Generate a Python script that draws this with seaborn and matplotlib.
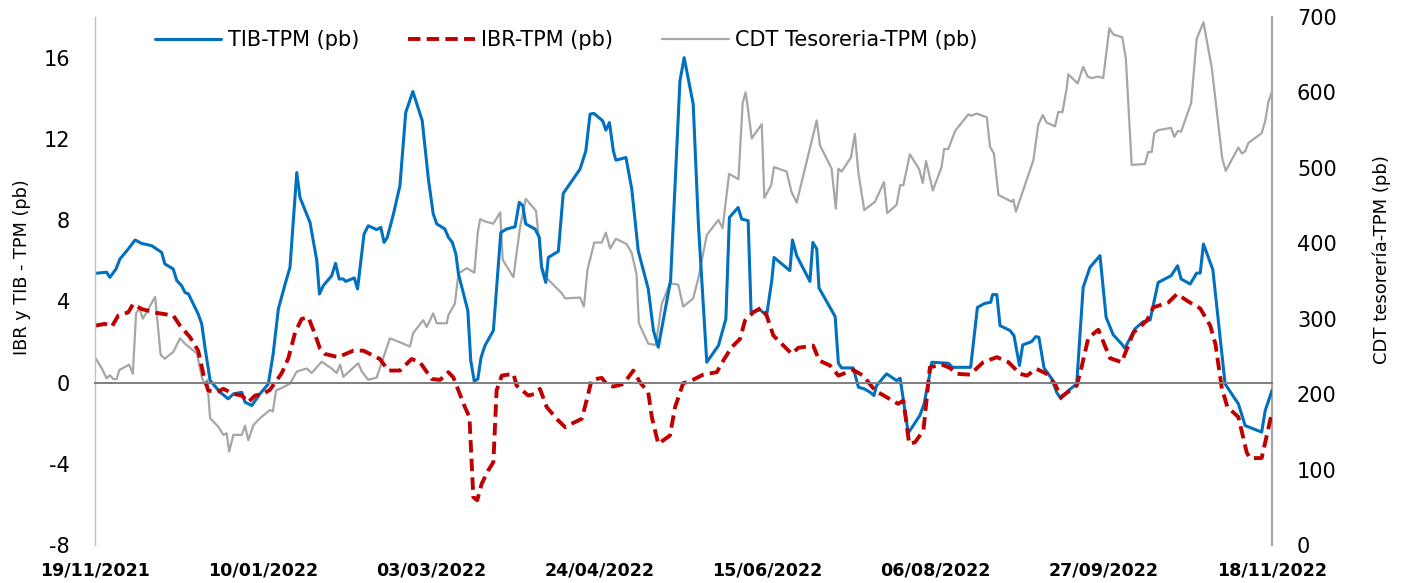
import numpy as np
import pandas as pd
import matplotlib
matplotlib.use('Agg')
import matplotlib.pyplot as plt
import matplotlib.dates as mdates
import seaborn as sns

# days counted from 19/11/2021
start = pd.Timestamp('2021-11-19')

tib_days = [0.2, 3.6, 4.6, 6.5, 7.7, 10.3, 12.4, 14.4, 17.5, 20.6, 21.6, 24.2, 25.3, 26.8, 27.8, 28.9,
            30.4, 31.9, 33.0, 34.0, 35.6, 38.7, 41.2, 42.8, 45.4, 46.4, 48.5, 51.0, 53.6, 55.1, 56.7,
            58.8, 60.3, 62.4, 63.4, 66.5, 68.6, 69.4, 70.6, 73.2, 74.4, 75.5, 76.8, 77.5, 80.2, 81.2,
            83.2, 84.5, 87.1, 88.4, 89.4, 90.4, 92.3, 94.3, 96.1, 98.3, 101.2, 103.1, 104.6, 105.7,
            108.2, 109.3, 110.5, 111.6, 112.4, 115.3, 116.2, 117.3, 118.4, 119.4, 120.6, 123.2, 125.5,
            127.3, 129.9, 131.2, 132.3, 133.2, 136.1, 137.4, 138.1, 139.4, 140.2, 143.3, 144.8, 150.0,
            151.8, 153.1, 154.3, 157.0, 158.0, 159.1, 160.3, 161.1, 164.2, 166.0, 168.0, 171.1, 172.7,
            174.2, 178.0, 180.9, 182.2, 185.0, 186.6, 189.2, 192.8, 195.1, 196.2, 198.9, 200.0, 202.0,
            202.9, 205.7, 207.7, 209.3, 210.0, 214.9, 215.7, 217.0, 221.1, 222.0, 223.2, 223.9, 228.9,
            229.9, 230.9, 234.5, 236.1, 237.9, 239.7, 240.9, 241.7, 244.8, 247.9, 249.0, 251.5, 255.1,
            256.4, 257.7, 258.8, 263.9, 265.2, 270.8, 272.9, 275.2, 277.0, 277.6, 278.9, 279.9, 283.0,
            284.2, 285.9, 286.9, 289.7, 290.9, 291.9, 293.5, 295.9, 297.4, 298.7, 301.3, 303.6, 305.6,
            307.7, 310.8, 312.7, 314.9, 317.5, 318.5, 321.6, 324.2, 326.3, 328.8, 332.8, 334.8, 335.9,
            338.7, 340.7, 341.8, 342.8, 345.7, 349.5, 353.6, 355.7, 360.8, 361.9, 364.0]
tib_vals = [5.38, 5.43, 5.18, 5.59, 6.08, 6.58, 7.02, 6.85, 6.74, 6.41, 5.84, 5.59, 5.02, 4.77, 4.44, 4.36,
            3.87, 3.38, 2.89, 1.74, 0.10, -0.48, -0.80, -0.56, -0.48, -0.97, -1.13, -0.56, -0.07, 1.41, 3.62,
            4.85, 5.67, 10.34, 9.11, 7.88, 6.00, 4.36, 4.77, 5.26, 5.87, 5.10, 5.10, 4.98, 5.15, 4.61,
            7.31, 7.72, 7.53, 7.64, 6.90, 7.15, 8.30, 9.69, 13.30, 14.33, 12.89, 10.02, 8.30, 7.81,
            7.56, 7.15, 6.90, 6.33, 5.35, 3.54, 1.08, 0.06, 0.18, 1.24, 1.82, 2.56, 7.39,
            7.56, 7.67, 8.87, 8.71, 7.81, 7.56, 7.15, 5.67, 4.93, 6.16, 6.46, 9.31, 10.51,
            11.41, 13.22, 13.25, 12.89, 12.43, 12.80, 11.41, 10.95, 11.08, 9.53, 6.49, 4.61, 2.56,
            1.74, 5.02, 14.85, 16.00, 13.71, 7.81, 1.00, 1.82, 3.13, 8.13, 8.62, 8.05, 7.97,
            3.46, 3.58, 3.30, 5.02, 6.16, 5.51, 7.02, 6.25, 4.98, 6.90, 6.58, 4.66, 3.25,
            0.95, 0.72, 0.72, -0.23, -0.31, -0.48, -0.64, -0.15, 0.43, 0.10, 0.21, -2.49, -1.62,
            -1.05, 0.02, 1.00, 0.95, 0.75, 0.75, 3.70, 3.90, 3.95, 4.33, 4.33, 2.80, 2.56,
            2.31, 0.84, 1.85, 2.02, 2.26, 2.23, 0.72, 0.18, -0.48, -0.80, -0.36, -0.07, 4.69,
            5.67, 6.25, 3.21, 2.35, 1.90, 1.69, 2.64, 3.00, 3.08, 4.93, 5.26, 5.75, 5.10,
            4.85, 5.39, 5.39, 6.82, 5.56, -0.07, -1.05, -2.12, -2.44, -1.38, -0.39]

ibr_days = [0.0, 3.1, 5.2, 7.2, 10.3, 11.8, 14.4, 19.1, 24.2, 26.3, 29.4, 31.9, 33.5, 35.0, 37.6, 39.7,
            42.8, 45.4, 47.4, 49.5, 52.0, 54.1, 57.7, 59.8, 61.9, 63.9, 66.0, 68.0, 69.6, 71.1, 75.2,
            79.9, 83.0, 88.1, 90.7, 94.3, 97.9, 100.5, 104.1, 106.7, 109.3, 110.8, 114.4, 115.8, 117.0,
            118.2, 119.6, 121.6, 123.2, 124.2, 125.8, 129.4, 130.4, 134.0, 136.1, 137.6, 139.7, 142.8,
            145.4, 147.4, 150.5, 151.5, 153.6, 156.7, 158.2, 160.3, 163.4, 166.5, 168.5, 171.1, 172.2,
            174.2, 177.8, 179.4, 181.9, 184.0, 188.1, 192.3, 194.3, 196.9, 199.5, 201.0, 203.6, 206.2,
            207.7, 209.8, 213.9, 215.5, 217.5, 222.1, 224.0, 227.3, 229.9, 234.5, 237.6, 241.2, 244.8,
            248.4, 250.0, 251.8, 253.6, 256.2, 258.2, 261.8, 264.4, 266.5, 270.6, 274.7, 278.9, 282.5,
            286.1, 288.2, 291.2, 294.3, 296.9, 298.7, 303.6, 305.1, 307.2, 310.3, 313.9, 317.5, 321.1,
            325.3, 327.3, 332.0, 334.6, 338.2, 341.8, 344.9, 346.5, 348.5, 350.2, 353.6, 356.2, 357.2,
            360.8, 362.4, 364.0]
ibr_vals = [2.80, 2.89, 2.75, 3.30, 3.46, 3.87, 3.62, 3.43, 3.30, 2.80, 2.23, 1.57, 0.43, -0.39, -0.48, -0.31,
            -0.56, -0.64, -0.97, -0.64, -0.56, -0.36, 0.45, 1.20, 2.47, 3.13, 3.21, 2.39, 1.66, 1.41, 1.25,
            1.57, 1.57, 1.16, 0.59, 0.59, 1.16, 1.00, 0.18, 0.13, 0.51, 0.26, -1.21, -1.70, -5.64,
            -5.80, -4.98, -4.33, -3.92, -0.39, 0.34, 0.43, -0.15, -0.64, -0.56, -0.31, -1.21, -1.79,
            -2.20, -2.03, -1.79, -1.21, 0.13, 0.23, -0.07, -0.20, -0.07, 0.59, 0.02, -0.48, -1.70,
            -3.02, -2.61, -1.21, -0.03, 0.06, 0.39, 0.51, 1.08, 1.74, 2.15, 3.05, 3.46, 3.70,
            3.30, 2.31, 1.66, 1.41, 1.71, 1.82, 1.08, 0.84, 0.34, 0.62, 0.34, -0.39, -0.72,
            -1.05, -0.89, -3.02, -2.94, -2.36, 0.75, 0.89, 0.72, 0.43, 0.39, 1.00, 1.25, 1.00,
            0.43, 0.34, 0.67, 0.43, -0.07, -0.72, -0.15, 0.75, 2.20, 2.60, 1.20, 1.00, 2.45,
            3.05, 3.70, 3.95, 4.36, 3.98, 3.65, 2.80, 1.90, -0.30, -1.20, -1.70, -3.45, -3.72,
            -3.72, -2.60, -1.46]

cdt_days = [0.3, 2.1, 3.6, 4.6, 5.7, 6.7, 7.5, 10.6, 11.7, 12.7, 13.7, 14.8, 18.6, 20.3, 21.6, 24.2,
            26.3, 27.8, 31.5, 33.0, 34.0, 34.7, 35.6, 38.1, 39.7, 40.7, 41.5, 42.8, 45.4, 46.4, 47.4,
            49.0, 51.0, 54.1, 55.0, 56.0, 57.7, 60.3, 62.4, 65.5, 67.0, 70.1, 73.2, 74.7, 75.8, 76.8,
            81.4, 82.5, 84.5, 87.1, 91.2, 95.3, 97.4, 98.4, 101.5, 102.6, 104.6, 105.7, 108.8, 109.3,
            111.3, 112.4, 115.0, 117.3, 118.4, 119.1, 120.6, 123.2, 125.3, 126.1, 129.4, 131.4, 133.2,
            136.4, 138.1, 139.2, 144.3, 145.4, 150.0, 151.2, 152.3, 154.4, 156.7, 158.0, 159.3, 161.1,
            164.4, 166.0, 167.5, 168.2, 171.1, 173.4, 175.3, 177.8, 180.4, 181.9, 185.0, 186.6, 189.2,
            192.8, 194.1, 196.1, 199.0, 200.3, 201.2, 201.8, 203.1, 206.2, 207.0, 209.1, 210.0, 213.9,
            215.4, 217.0, 223.2, 224.2, 227.8, 229.1, 229.9, 230.9, 233.8, 235.0, 236.1, 237.9, 241.2,
            244.0, 245.0, 247.9, 249.0, 250.0, 252.0, 254.9, 256.0, 257.0, 259.1, 261.8, 262.6, 263.9,
            266.0, 270.1, 270.9, 272.7, 275.8, 276.8, 278.0, 279.4, 280.4, 283.5, 284.0, 284.8, 290.2,
            291.7, 293.1, 294.3, 296.9, 297.9, 299.2, 300.5, 301.0, 303.9, 305.6, 307.0, 308.2, 310.3,
            311.8, 313.7, 314.9, 317.7, 318.8, 320.6, 324.7, 325.7, 326.8, 327.6, 328.8, 332.8, 333.8,
            334.9, 335.9, 339.0, 340.7, 342.8, 345.4, 348.6, 349.7, 353.6, 354.7, 355.7, 356.7, 360.8,
            361.9, 362.9, 364.0]
cdt_vals = [247, 234, 221, 225, 220, 220, 232, 239, 227, 307, 314, 300, 329, 252, 247, 256,
            274, 267, 254, 223, 212, 219, 168, 157, 146, 148, 124, 146, 146, 158, 139,
            159, 168, 179, 177, 205, 208, 214, 230, 234, 228, 243, 234, 228, 239, 223,
            241, 230, 219, 222, 274, 267, 263, 281, 298, 289, 307, 294, 294, 305,
            320, 360, 367, 361, 415, 432, 429, 426, 441, 378, 355, 420, 459,
            443, 371, 356, 334, 327, 328, 316, 365, 401, 401, 414, 393, 406,
            399, 387, 358, 294, 267, 265, 320, 347, 345, 316, 327, 354, 411,
            431, 420, 492, 485, 586, 600, 583, 539, 558, 460, 477, 501, 495,
            468, 454, 563, 530, 499, 446, 499, 495, 514, 545, 493, 444, 455,
            481, 440, 451, 477, 477, 518, 498, 480, 509, 470, 501, 525, 525,
            549, 571, 569, 572, 567, 528, 519, 464, 462, 455, 458, 442, 510,
            557, 570, 560, 555, 574, 574, 605, 624, 612, 634, 621, 619, 621,
            619, 685, 677, 673, 645, 504, 505, 521, 521, 546, 550, 553, 541,
            549, 548, 586, 671, 693, 632, 513, 496, 527, 519, 522, 533, 546,
            562, 588, 601]

tick_days = [0, 52, 104, 156, 208, 260, 312, 364]

tib = pd.DataFrame({'fecha': start + pd.to_timedelta(tib_days, unit='D'), 'valor': tib_vals})
ibr = pd.DataFrame({'fecha': start + pd.to_timedelta(ibr_days, unit='D'), 'valor': ibr_vals})
cdt = pd.DataFrame({'fecha': start + pd.to_timedelta(cdt_days, unit='D'), 'valor': cdt_vals})

sns.set_style('white')
plt.rcParams['font.family'] = ['DejaVu Sans']
plt.rcParams['axes.unicode_minus'] = False
plt.rcParams['text.color'] = 'black'
plt.rcParams['xtick.color'] = 'black'
plt.rcParams['ytick.color'] = 'black'
plt.rcParams['axes.labelcolor'] = 'black'

fig = plt.figure(figsize=(14.09, 5.83), dpi=100)
ax = fig.add_axes([95 / 1409, 38 / 583, 1177 / 1409, 528 / 583])
ax2 = ax.twinx()

sns.lineplot(data=cdt, x='fecha', y='valor', ax=ax2, color='#A6A6A6', linewidth=1.6,
             estimator=None, label='CDT Tesoreria-TPM (pb)')
sns.lineplot(data=tib, x='fecha', y='valor', ax=ax, color='#0070C0', linewidth=2.2,
             estimator=None, label='TIB-TPM (pb)')
sns.lineplot(data=ibr, x='fecha', y='valor', ax=ax, color='#C00000', linewidth=2.8,
             linestyle=(0, (3.2, 1.6)), estimator=None, label='IBR-TPM (pb)')

ax.set_zorder(ax2.get_zorder() + 1)
ax.patch.set_visible(False)

for a in (ax, ax2):
    if a.get_legend() is not None:
        a.get_legend().remove()

ax.set_xlim(start, start + pd.Timedelta(days=364))
ax.set_ylim(-8, 18)
ax.set_yticks(np.arange(-8, 17, 4))
ax2.set_ylim(0, 700)
ax2.set_yticks(np.arange(0, 701, 100))

ax.set_xticks(start + pd.to_timedelta(tick_days, unit='D'))
ax.xaxis.set_major_formatter(mdates.DateFormatter('%d/%m/%Y'))

ax.spines['top'].set_visible(False)
ax.spines['right'].set_visible(False)
ax.spines['left'].set_color('#BFBFBF')
ax.spines['left'].set_linewidth(1.0)
ax.spines['bottom'].set_position(('data', 0))
ax.spines['bottom'].set_color('#7F7F7F')
ax.spines['bottom'].set_linewidth(1.4)
for s in ('top', 'left', 'bottom'):
    ax2.spines[s].set_visible(False)
ax2.spines['right'].set_color('#A6A6A6')
ax2.spines['right'].set_linewidth(1.6)

ax.tick_params(axis='x', direction='out', length=4, width=1.2, color='#595959', pad=125,
               labelsize=12.6, labelcolor='black')
for t in ax.get_xticklabels():
    t.set_fontweight('bold')
ax.tick_params(axis='y', length=0, pad=18, labelsize=15, labelcolor='black')
ax2.tick_params(axis='y', length=0, pad=18, labelsize=15, labelcolor='black')

ax.set_xlabel('')
ax.set_ylabel('IBR y TIB - TPM (pb)', fontsize=12.7, color='black')
ax.yaxis.set_label_coords(-0.054, 0.527)
ax2.set_xlabel('')
ax2.set_ylabel('CDT tesorería-TPM (pb)', fontsize=13, color='black')
ax2.yaxis.set_label_coords(1.085, 0.54)

h1, l1 = ax.get_legend_handles_labels()
h2, l2 = ax2.get_legend_handles_labels()
leg = fig.legend(h1 + h2, l1 + l2, ncol=3, loc='center', bbox_to_anchor=(566 / 1409, 1 - 40 / 583),
                 frameon=False, fontsize=15, handlelength=3.2, handletextpad=0.3, columnspacing=2.35)
for t in leg.get_texts():
    t.set_color('black')

fig.savefig('out.png', dpi=100)
